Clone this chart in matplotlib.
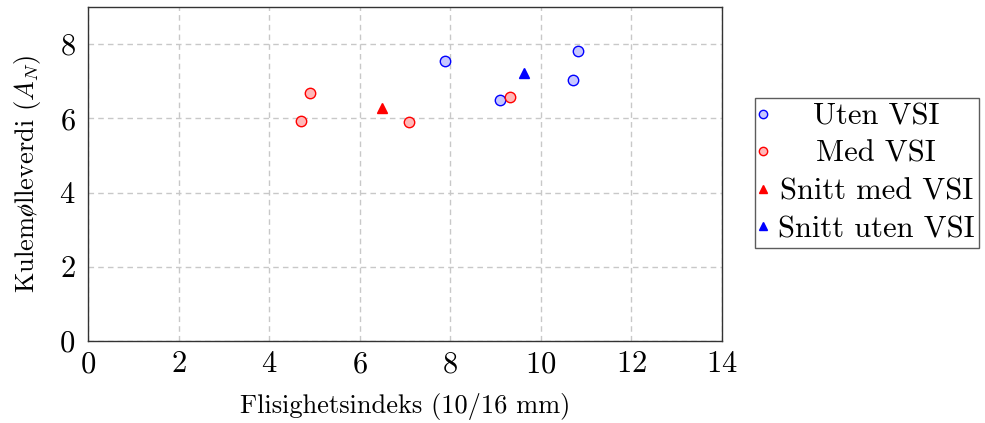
import matplotlib
matplotlib.use("Agg")
import matplotlib.pyplot as plt

plt.rcParams["font.family"] = ["cmr10", "DejaVu Serif"]
plt.rcParams["mathtext.fontset"] = "cm"
plt.rcParams["axes.formatter.use_mathtext"] = True

# Measurements
uten_x = [7.88, 9.09, 10.71, 10.82]
uten_y = [7.55, 6.50, 7.03, 7.82]
med_x = [4.70, 4.90, 7.09, 9.32]
med_y = [5.93, 6.68, 5.90, 6.58]
snitt_med = (6.50, 6.27)
snitt_uten = (9.625, 7.225)

labels = ["Uten VSI", "Med VSI", "Snitt med VSI", "Snitt uten VSI"]
x_ticks = [0, 2, 4, 6, 8, 10, 12, 14]
y_ticks = [0, 2, 4, 6, 8]

fig = plt.figure(figsize=(9.85, 4.23), dpi=100)
ax = fig.add_axes([88 / 985, 1 - 341 / 423, (722 - 88) / 985, (341 - 7) / 423])

ax.grid(True, color="#c8c8c8", linestyle=(0, (4, 3)), linewidth=1.0)
ax.set_axisbelow(True)

h1, = ax.plot(uten_x, uten_y, "o", ms=7.5, mfc=(0.78, 0.78, 1.0), mec="blue", mew=1.0,
              linestyle="none")
h2, = ax.plot(med_x, med_y, "o", ms=7.5, mfc=(1.0, 0.72, 0.72), mec="red", mew=1.0,
              linestyle="none")
h3, = ax.plot([snitt_med[0]], [snitt_med[1]], "^", ms=6.5, color="red", linestyle="none")
h4, = ax.plot([snitt_uten[0]], [snitt_uten[1]], "^", ms=6.5, color="blue", linestyle="none")

ax.set_xlim(0, 14)
ax.set_ylim(0, 9)
ax.set_xticks(x_ticks)
ax.set_yticks(y_ticks)
ax.tick_params(length=0, labelsize=22)
ax.tick_params(axis="x", pad=7)
ax.tick_params(axis="y", pad=9)
for s in ax.spines.values():
    s.set_linewidth(1.0)
    s.set_color("#333333")

ax.set_xlabel("Flisighetsindeks (10/16 mm)", fontsize=19)
ax.xaxis.set_label_coords(0.5, -0.155)
ylab = ax.set_ylabel(r"Kulem$\o$lleverdi ($A_N$)", fontsize=19)
ax.yaxis.set_label_coords(-0.071, 0.5)

leg = fig.legend([h1, h2, h3, h4], labels, loc="center left",
                 bbox_to_anchor=(755 / 985, 1 - 173 / 423), fontsize=22,
                 frameon=True, fancybox=False, edgecolor="#333333",
                 handlelength=0.2, handletextpad=0.4, borderpad=0.15,
                 labelspacing=0.33, borderaxespad=0, markerscale=0.8)
leg.get_frame().set_linewidth(1.0)

try:
    fig.canvas.draw()
except Exception:
    ylab.set_text("Kulemølleverdi ($A_N$)")
    ylab.set_family(["DejaVu Serif"])
    fig.canvas.draw()

# center each label within the text column
renderer = fig.canvas.get_renderer()
widths = [t.get_window_extent(renderer).width for t in leg.get_texts()]
wmax = max(widths)
for t, w in zip(leg.get_texts(), widths):
    t.set_x((wmax - w) / 2)

fig.savefig("out.png", dpi=100)
